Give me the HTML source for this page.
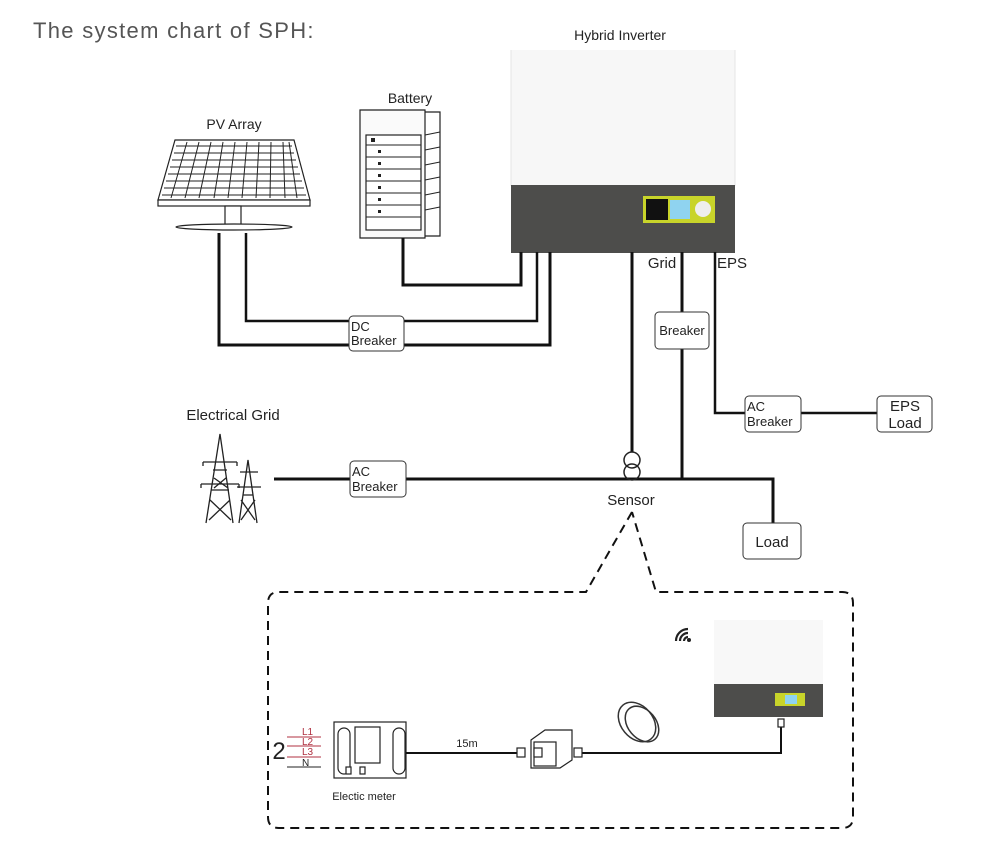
<!DOCTYPE html>
<html><head><meta charset="utf-8"><style>
html,body{margin:0;padding:0;background:#fff}
svg{display:block}
text{font-family:"Liberation Sans",sans-serif;fill:#222}
</style></head><body>
<svg width="981" height="842" viewBox="0 0 981 842" xmlns="http://www.w3.org/2000/svg">
<text x="33" y="38" font-size="22" fill="#555" style="fill:#555" letter-spacing="1.3">The system chart of SPH:</text>
<text x="620" y="40" font-size="14" text-anchor="middle">Hybrid Inverter</text>
<text x="410" y="103" font-size="14" text-anchor="middle">Battery</text>
<text x="234" y="129" font-size="14" text-anchor="middle">PV Array</text>

<!-- Inverter -->
<rect x="511" y="50" width="224" height="136" fill="#f7f7f7"/>
<line x1="511" y1="50" x2="511" y2="186" stroke="#e4e4e4"/>
<line x1="735" y1="50" x2="735" y2="186" stroke="#e4e4e4"/>
<rect x="511" y="185" width="224" height="68" fill="#4d4d4b"/>
<rect x="643" y="196" width="72" height="27" fill="#c8d42a"/>
<rect x="646" y="199" width="22" height="21" fill="#111"/>
<rect x="670" y="200" width="20" height="19" fill="#8fd3f0"/>
<circle cx="703" cy="209" r="8" fill="#eee"/>

<!-- PV panel -->
<g stroke="#222" fill="#fff" stroke-width="1.2">
<polygon points="175,140 294,140 310,200 158,200"/>
<rect x="158" y="200" width="152" height="6"/>
<rect x="225" y="206" width="16" height="20"/>
<ellipse cx="234" cy="227" rx="58" ry="3"/>
</g>
<g fill="none" stroke="#222" stroke-width="1">
<path d="M176,146h116M174,153h120M172,160h124M170,167h128M168,174h132M166,181h136M164,188h140M162,195h144"/>
<path d="M187,142L171,198M199,142L185,198M211,142L199,198M223,142L214,198M235,142L228,198M247,142L242,198M259,142L256,198M271,142L270,198M283,142L285,198M289,142L297,198"/>
</g>
<!-- Battery -->
<g stroke="#222" fill="#fff" stroke-width="1.2">
<polygon points="373,112 440,112 440,236 373,236"/>
<polygon points="360,110 425,110 425,238 360,238" fill="#fafafa"/>
<rect x="366" y="135" width="55" height="95"/>
</g>
<g stroke="#222" stroke-width="1">
<path d="M366,145h55M366,157h55M366,169h55M366,181h55M366,193h55M366,205h55M366,217h55M425,135l15,-3M425,150l15,-3M425,165l15,-3M425,180l15,-3M425,195l15,-3M425,210l15,-3"/>
</g>
<g fill="#222"><rect x="371" y="138" width="4" height="4"/><rect x="378" y="150" width="3" height="3"/><rect x="378" y="162" width="3" height="3"/><rect x="378" y="174" width="3" height="3"/><rect x="378" y="186" width="3" height="3"/><rect x="378" y="198" width="3" height="3"/><rect x="378" y="210" width="3" height="3"/></g>

<!-- DC wiring -->
<g fill="none" stroke="#111" stroke-width="3">
<path d="M403,238V285H521V252"/>
<path d="M246,233V321H537V252" stroke-width="2.5"/>
<path d="M219,233V345H550V252"/>
<path d="M632,252V452"/>
<path d="M682,252V479"/>
<path d="M715,252V413H877" stroke-width="2.5"/>
<path d="M274,479H773V523"/>
</g>
<g stroke="#333" fill="#fff" stroke-width="1">
<rect x="349" y="316" width="55" height="35" rx="4"/>
<rect x="655" y="312" width="54" height="37" rx="4"/>
<rect x="745" y="396" width="56" height="36" rx="4"/>
<rect x="877" y="396" width="55" height="36" rx="4"/>
<rect x="350" y="461" width="56" height="36" rx="4"/>
<rect x="743" y="523" width="58" height="36" rx="4"/>
</g>
<g font-size="13">
<text x="351" y="331">DC</text><text x="351" y="345">Breaker</text>
<text x="682" y="335" text-anchor="middle">Breaker</text>
<text x="747" y="411">AC</text><text x="747" y="426">Breaker</text>
<text x="352" y="476">AC</text><text x="352" y="491">Breaker</text>
</g>
<text x="905" y="411" font-size="15" text-anchor="middle">EPS</text>
<text x="905" y="428" font-size="15" text-anchor="middle">Load</text>
<text x="772" y="547" font-size="15" text-anchor="middle">Load</text>
<text x="662" y="268" font-size="15" text-anchor="middle">Grid</text>
<text x="732" y="268" font-size="15" text-anchor="middle">EPS</text>
<text x="233" y="420" font-size="15" text-anchor="middle">Electrical Grid</text>
<text x="631" y="505" font-size="15" text-anchor="middle">Sensor</text>
<!-- sensor -->
<g fill="none" stroke="#222" stroke-width="1.5">
<circle cx="632" cy="460" r="8"/><circle cx="632" cy="472" r="8"/>
</g>
<!-- towers -->
<g stroke="#222" fill="none" stroke-width="1.3">
<path d="M206,523L220,434L233,523M211,490L229,490M213,470L227,470M210,500L231,520M230,500L209,520M214,478L228,488M226,478L214,488"/>
<path d="M201,484h38M203,462h34M201,484v4M239,484v4M203,462v4M237,462v4"/>
<path d="M239,523L248,460L257,523M243,495L253,495M237,487h24M240,472h18M241,500L255,520M255,500L241,520"/>
</g>

<!-- dashed callout -->
<g fill="none" stroke="#111" stroke-width="2" stroke-dasharray="9,6">
<path d="M632,512L586,592H279Q268,592 268,603V817Q268,828 279,828H842Q853,828 853,817V603Q853,592 842,592H656L632,512"/>
</g>

<!-- bottom section -->
<text x="279" y="759" font-size="24" text-anchor="middle">2</text>
<g stroke="#b03040" stroke-width="1"><path d="M287,737h34M287,746h34M287,757h34"/></g>
<path d="M287,767h34" stroke="#222"/>
<g font-size="10"><text x="302" y="735" style="fill:#b03040">L1</text><text x="302" y="745" style="fill:#b03040">L2</text><text x="302" y="755" style="fill:#b03040">L3</text><text x="302" y="766" style="fill:#222">N</text></g>
<g stroke="#222" fill="#fff" stroke-width="1.2">
<rect x="334" y="722" width="72" height="56"/>
<rect x="338" y="728" width="12" height="46" rx="6"/>
<rect x="393" y="728" width="12" height="46" rx="6"/>
<rect x="355" y="727" width="25" height="36"/>
<rect x="346" y="767" width="5" height="7"/><rect x="360" y="767" width="5" height="7"/>
</g>
<text x="364" y="800" font-size="11" text-anchor="middle">Electic meter</text>
<text x="467" y="747" font-size="11" text-anchor="middle">15m</text>
<path d="M406,753H522M580,753H781V727" stroke="#111" stroke-width="2" fill="none"/>
<g stroke="#222" fill="#fff" stroke-width="1.2">
<rect x="517" y="748" width="8" height="9"/>
<path d="M531,740L545,730H572L572,760L560,768H531Z"/>
<rect x="534" y="742" width="22" height="24"/>
<rect x="534" y="748" width="8" height="9"/><rect x="574" y="748" width="8" height="9"/>
<rect x="778" y="719" width="6" height="8"/>
</g>
<g fill="none" stroke="#333" stroke-width="1.5">
<ellipse cx="637" cy="722" rx="16" ry="22" transform="rotate(-40 637 722)"/>
<ellipse cx="642" cy="724" rx="14" ry="20" transform="rotate(-40 642 724)"/>
</g>
<rect x="714" y="620" width="109" height="66" fill="#f8f8f8"/>
<rect x="714" y="684" width="109" height="33" fill="#4d4d4b"/>
<rect x="775" y="693" width="30" height="13" fill="#c8d42a"/>
<rect x="785" y="695" width="12" height="9" fill="#8fd3f0"/>
<g fill="none" stroke="#222" stroke-width="2.2">
<path d="M676,641a12,12 0 0 1 12,-12M680,641a8,8 0 0 1 8,-8M684,641a4,4 0 0 1 4,-4"/>
</g>
<circle cx="689" cy="640" r="2" fill="#222"/>
</svg>
</body></html>
